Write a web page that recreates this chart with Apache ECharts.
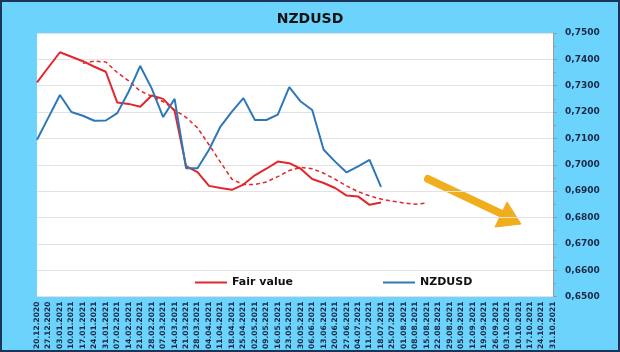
<!DOCTYPE html>
<html>
<head>
<meta charset="utf-8" />
<title>NZDUSD</title>
<script src="https://cdn.jsdelivr.net/npm/echarts@6/dist/echarts.min.js"></script>
<style>
  body { margin: 0; }
  #wrap { position: relative; width: 620px; height: 352px; }
  #chart { width: 620px; height: 352px; }
  #frame { position: absolute; left: 0; top: 0; width: 620px; height: 352px;
           box-sizing: border-box; border: 2px solid #1b3558; pointer-events: none; }
</style>
</head>
<body>
<div id="wrap">
  <div id="chart"></div>
  <div id="frame"></div>
</div>
<script type="text/javascript">
// weekly dates on the x axis
var dates = [
  '20.12.2020','27.12.2020','03.01.2021','10.01.2021','17.01.2021','24.01.2021','31.01.2021',
  '07.02.2021','14.02.2021','21.02.2021','28.02.2021','07.03.2021','14.03.2021','21.03.2021',
  '28.03.2021','04.04.2021','11.04.2021','18.04.2021','25.04.2021','02.05.2021','09.05.2021',
  '16.05.2021','23.05.2021','30.05.2021','06.06.2021','13.06.2021','20.06.2021','27.06.2021',
  '04.07.2021','11.07.2021','18.07.2021','25.07.2021','01.08.2021','08.08.2021','15.08.2021',
  '22.08.2021','29.08.2021','05.09.2021','12.09.2021','19.09.2021','26.09.2021','03.10.2021',
  '10.10.2021','17.10.2021','24.10.2021','31.10.2021'
];

var fairValue = [
  0.7313, 0.7370, 0.7427, 0.7410, 0.7393, 0.7372, 0.7353, 0.7236, 0.7231, 0.7220,
  0.7263, 0.7250, 0.7205, 0.6995, 0.6972, 0.6920, 0.6912, 0.6905, 0.6925, 0.6960,
  0.6985, 0.7012, 0.7006, 0.6985, 0.6946, 0.6931, 0.6912, 0.6883, 0.6880, 0.6848,
  0.6857
];

// smoothed fair value (dashed)
var fairTrend = [
  null, null, null, null, 0.7385, 0.7393, 0.7390, 0.7350, 0.7318, 0.7280,
  0.7260, 0.7240, 0.7208, 0.7180, 0.7140, 0.7076, 0.7010, 0.6945, 0.6925, 0.6925,
  0.6935, 0.6955, 0.6978, 0.6990, 0.6985, 0.6968, 0.6945, 0.6920, 0.6898, 0.6882,
  0.6870, 0.6862, 0.6855, 0.6850, 0.6855
];

var nzdusd = [
  0.7095, 0.7180, 0.7265, 0.7200, 0.7186, 0.7167, 0.7168, 0.7196, 0.7278, 0.7375,
  0.7290, 0.7181, 0.7250, 0.6987, 0.6987, 0.7057, 0.7145, 0.7202, 0.7253, 0.7170,
  0.7170, 0.7190, 0.7295, 0.7240, 0.7208, 0.7057, 0.7012, 0.6971, 0.6994, 0.7019,
  0.6916
];

var RED = '#e3262b';
var BLUE = '#2e78b8';
var TXT = '#1a2745';
var ARROW = '#f0ad1c';

var myChart = echarts.init(document.getElementById('chart'));

var option = {
  backgroundColor: '#6cd4fc',
  animation: false,
  title: {
    text: 'NZDUSD',
    left: 'center',
    top: 7,
    textStyle: { fontFamily: 'DejaVu Sans', fontSize: 14, fontWeight: 'bold', color: '#111' }
  },
  legend: [{
    data: ['Fair value'],
    left: 190, top: 272,
    icon: 'rect', itemWidth: 32, itemHeight: 2,
    textStyle: { fontFamily: 'DejaVu Sans', fontSize: 11, fontWeight: 'bold', color: '#111' }
  }, {
    data: ['NZDUSD'],
    left: 378, top: 272,
    icon: 'rect', itemWidth: 32, itemHeight: 2,
    textStyle: { fontFamily: 'DejaVu Sans', fontSize: 11, fontWeight: 'bold', color: '#111' }
  }],
  grid: {
    left: 37, right: 67, top: 33, bottom: 55,
    show: true, backgroundColor: '#ffffff', borderWidth: 0
  },
  // forecast arrow (annotation)
  graphic: [{
    type: 'line',
    silent: true,
    shape: { x1: 428, y1: 179, x2: 502, y2: 214 },
    style: { stroke: ARROW, lineWidth: 8, lineCap: 'round' }
  }, {
    type: 'polygon',
    silent: true,
    shape: { points: [[521, 224], [507, 202], [495, 227]] },
    style: { fill: ARROW, stroke: ARROW, lineWidth: 1, lineJoin: 'round' }
  }],
  xAxis: {
    type: 'category',
    data: dates,
    boundaryGap: false,
    axisLine: { show: false },
    axisTick: { show: false },
    splitLine: { show: false },
    axisLabel: {
      interval: 0, rotate: 90, margin: 5,
      fontFamily: 'DejaVu Sans', fontSize: 7.5, fontWeight: 'bold', color: TXT
    }
  },
  yAxis: {
    type: 'value',
    position: 'right',
    min: 0.65, max: 0.75, interval: 0.01,
    axisLine: { show: true, lineStyle: { color: '#9a9a9a' } },
    axisTick: { show: true, length: 4, lineStyle: { color: '#9a9a9a' } },
    minorTick: { show: true, splitNumber: 2, length: 3, lineStyle: { color: '#9a9a9a' } },
    splitLine: { show: true, lineStyle: { color: '#e2e2e2', width: 1 } },
    axisLabel: {
      margin: 12,
      fontFamily: 'DejaVu Sans', fontSize: 9, fontWeight: 'bold', color: TXT,
      formatter: function (v) { return v.toFixed(4).replace('.', ','); }
    }
  },
  series: [{
    name: 'Fair value',
    type: 'line',
    data: fairValue,
    showSymbol: false,
    itemStyle: { color: RED },
    lineStyle: { color: RED, width: 2 }
  }, {
    name: 'Fair trend',
    type: 'line',
    data: fairTrend,
    showSymbol: false,
    itemStyle: { color: RED },
    lineStyle: { color: RED, width: 1.5, type: [4, 3] }
  }, {
    name: 'NZDUSD',
    type: 'line',
    data: nzdusd,
    showSymbol: false,
    itemStyle: { color: BLUE },
    lineStyle: { color: BLUE, width: 2 }
  }]
};

myChart.setOption(option);
</script>
</body>
</html>
